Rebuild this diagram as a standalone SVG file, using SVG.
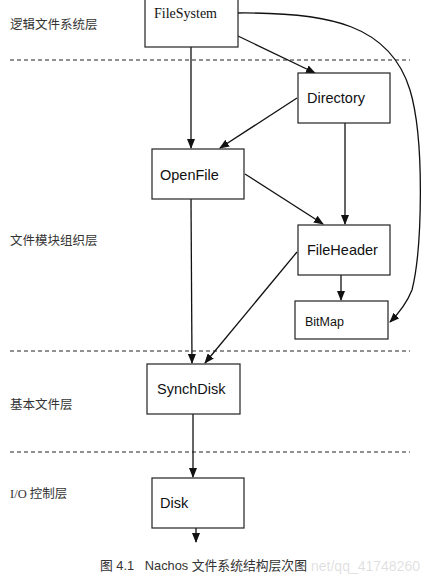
<svg xmlns="http://www.w3.org/2000/svg" width="437" height="580" viewBox="0 0 437 580">
<style>
.box{fill:#fff;stroke:#222;stroke-width:1.2}
.lbl{font-family:"Liberation Sans",Arial,sans-serif;font-size:14.5px;fill:#111}
.layer{font-family:"Liberation Serif","Noto Sans CJK SC",serif;font-size:12.5px;fill:#333}
.dash{stroke:#222;stroke-width:1;stroke-dasharray:4,3}
.c{stroke:#111;stroke-width:1.3;fill:none;marker-end:url(#ah)}
</style>
<defs>
<marker id="ah" markerWidth="10" markerHeight="8" refX="9" refY="4" orient="auto" markerUnits="userSpaceOnUse">
<path d="M0,0 L10,4 L0,8 z" fill="#111"/>
</marker>
</defs>
<rect width="437" height="580" fill="#fff"/>
<g id="layers">
<line class="dash" x1="10" y1="60" x2="410" y2="60"/>
<line class="dash" x1="10" y1="351" x2="410" y2="351"/>
<line class="dash" x1="10" y1="452" x2="410" y2="452"/>
<text class="layer" x="10" y="29">逻辑文件系统层</text>
<text class="layer" x="10" y="245">文件模块组织层</text>
<text class="layer" x="10" y="409">基本文件层</text>
<text class="layer" x="10" y="498">I/O 控制层</text>
</g>
<g id="connectors">
<line class="c" x1="191" y1="47" x2="191" y2="148"/>
<line class="c" x1="238" y1="36" x2="315" y2="73"/>
<line class="c" x1="297" y1="98" x2="220" y2="148"/>
<path class="c" d="M237,13 C330,12 390,25 410,90 C425,140 422,250 412,290 C406,305 397,315 390,322"/>
<line class="c" x1="345" y1="123" x2="345" y2="224"/>
<line class="c" x1="245" y1="174" x2="323" y2="224"/>
<line class="c" x1="191" y1="199" x2="192" y2="363"/>
<line class="c" x1="297" y1="252" x2="205" y2="363"/>
<line class="c" x1="341" y1="275" x2="341" y2="300"/>
<line class="c" x1="193" y1="414" x2="193" y2="477"/>
<line class="c" x1="196" y1="524" x2="196" y2="542"/>
</g>
<g id="FileSystem">
<rect class="box" x="145" y="-2" width="93" height="49"/>
<text x="154" y="18" style="font-family:'Liberation Serif','Times New Roman',serif;font-size:14px;fill:#111">FileSystem</text>
</g>
<g id="Directory">
<rect class="box" x="298" y="73" width="92" height="50"/>
<text class="lbl" x="307" y="103">Directory</text>
</g>
<g id="OpenFile">
<rect class="box" x="152" y="149" width="92" height="50"/>
<text class="lbl" x="160" y="180">OpenFile</text>
</g>
<g id="FileHeader">
<rect class="box" x="298" y="225" width="92" height="50"/>
<text class="lbl" x="307" y="255">FileHeader</text>
</g>
<g id="BitMap">
<rect class="box" x="295" y="301" width="93" height="38"/>
<text class="lbl" x="305" y="326" style="font-size:12.5px">BitMap</text>
</g>
<g id="SynchDisk">
<rect class="box" x="147" y="364" width="93" height="50"/>
<text class="lbl" x="157" y="394">SynchDisk</text>
</g>
<g id="Disk">
<rect class="box" x="152" y="478" width="92" height="50"/>
<text class="lbl" x="160" y="508">Disk</text>
</g>
<g id="caption">
<text x="311" y="571" style="font-family:'Liberation Sans',Arial,sans-serif;font-size:14px;fill:#000;opacity:0.12">net/qq_41748260</text>
<text x="100" y="570" style="font-family:'Liberation Sans','Noto Sans CJK SC',sans-serif;font-size:12.8px;fill:#333" xml:space="preserve">图 4.1   Nachos 文件系统结构层次图</text>
</g>
</svg>
